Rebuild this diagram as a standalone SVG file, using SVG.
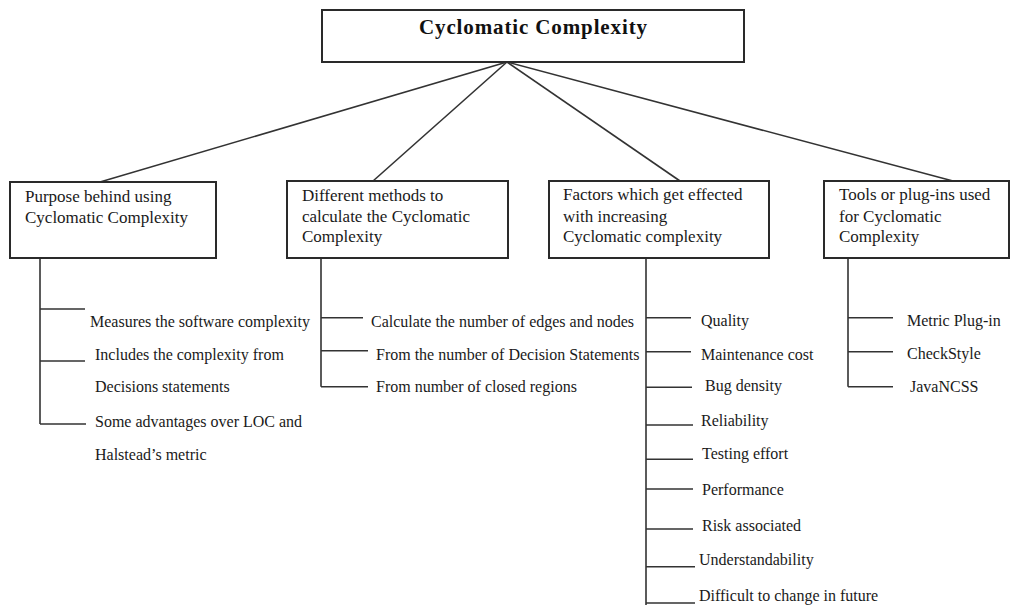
<svg xmlns="http://www.w3.org/2000/svg" width="1012" height="605" viewBox="0 0 1012 605">
<style>
.box{fill:#fff;stroke:#2a2a2a;stroke-width:2}
.ln{stroke:#333;stroke-width:1.6;fill:none}
.bt{font-family:"Liberation Serif",serif;font-size:17px;fill:#1a1a1a}
.lt{font-family:"Liberation Serif",serif;font-size:16px;fill:#1a1a1a}
.tt{font-family:"Liberation Serif",serif;font-size:21px;font-weight:bold;fill:#111}
</style>
<rect width="1012" height="605" fill="#fff"/>
<g id="connectors">
<line class="ln" x1="507" y1="62" x2="100" y2="182"/>
<line class="ln" x1="507" y1="62" x2="373" y2="181"/>
<line class="ln" x1="507" y1="62" x2="680" y2="181"/>
<line class="ln" x1="507" y1="62" x2="953" y2="181"/>
<path class="ln" d="M40 258V424M40 309H85M40 361H85M40 424H86"/>
<path class="ln" d="M321 258V386.7M321 317.7H363M321 350.7H368M321 386.7H368"/>
<path class="ln" d="M646 258V605M646 317.7H691M646 351.7H691M646 387.3H692M646 425H693M646 459.3H693M646 489H693M646 529H693M646 566.7H695M646 603H695"/>
<path class="ln" d="M848 258V386.7M848 317.7H893M848 351.7H893M848 386.7H893"/>
</g>
<g id="root">
<rect class="box" x="322" y="10" width="422" height="52"/>
<text class="tt" x="533" y="34" text-anchor="middle" textLength="228">Cyclomatic Complexity</text>
</g>
<g id="purpose">
<rect class="box" x="10" y="182" width="206" height="76"/>
<text class="bt" x="25" y="201.7">Purpose behind using</text>
<text class="bt" x="25" y="222.7">Cyclomatic Complexity</text>
</g>
<g id="methods">
<rect class="box" x="287" y="181" width="221" height="77"/>
<text class="bt" x="302" y="200.7">Different methods  to</text>
<text class="bt" x="302" y="221.7">calculate  the Cyclomatic</text>
<text class="bt" x="302" y="241.5">Complexity</text>
</g>
<g id="factors">
<rect class="box" x="549" y="181" width="220" height="77"/>
<text class="bt" x="563" y="199.5">Factors which  get effected</text>
<text class="bt" x="563" y="221.5">with increasing</text>
<text class="bt" x="563" y="241.5">Cyclomatic  complexity</text>
</g>
<g id="tools">
<rect class="box" x="824" y="181" width="185" height="77"/>
<text class="bt" x="839" y="199.5">Tools or plug-ins  used</text>
<text class="bt" x="839" y="221.5">for Cyclomatic</text>
<text class="bt" x="839" y="241.5">Complexity</text>
</g>
<g id="purpose-items">
<text class="lt" x="90" y="327">Measures the software complexity</text>
<text class="lt" x="95" y="360">Includes the complexity from</text>
<text class="lt" x="95" y="392">Decisions statements</text>
<text class="lt" x="95" y="427">Some advantages over LOC and</text>
<text class="lt" x="95" y="460">Halstead’s metric</text>
</g>
<g id="method-items">
<text class="lt" x="371" y="327">Calculate the number of edges and nodes</text>
<text class="lt" x="376" y="360">From the number of  Decision Statements</text>
<text class="lt" x="376" y="392">From number of closed regions</text>
</g>
<g id="factor-items">
<text class="lt" x="701" y="326">Quality</text>
<text class="lt" x="701" y="360">Maintenance cost</text>
<text class="lt" x="705" y="391">Bug density</text>
<text class="lt" x="701" y="426">Reliability</text>
<text class="lt" x="702" y="459">Testing effort</text>
<text class="lt" x="702" y="495">Performance</text>
<text class="lt" x="702" y="531">Risk associated</text>
<text class="lt" x="699" y="565">Understandability</text>
<text class="lt" x="699" y="601">Difficult to change in future</text>
</g>
<g id="tool-items">
<text class="lt" x="907" y="326">Metric Plug-in</text>
<text class="lt" x="907" y="359">CheckStyle</text>
<text class="lt" x="910" y="392">JavaNCSS</text>
</g>
</svg>
